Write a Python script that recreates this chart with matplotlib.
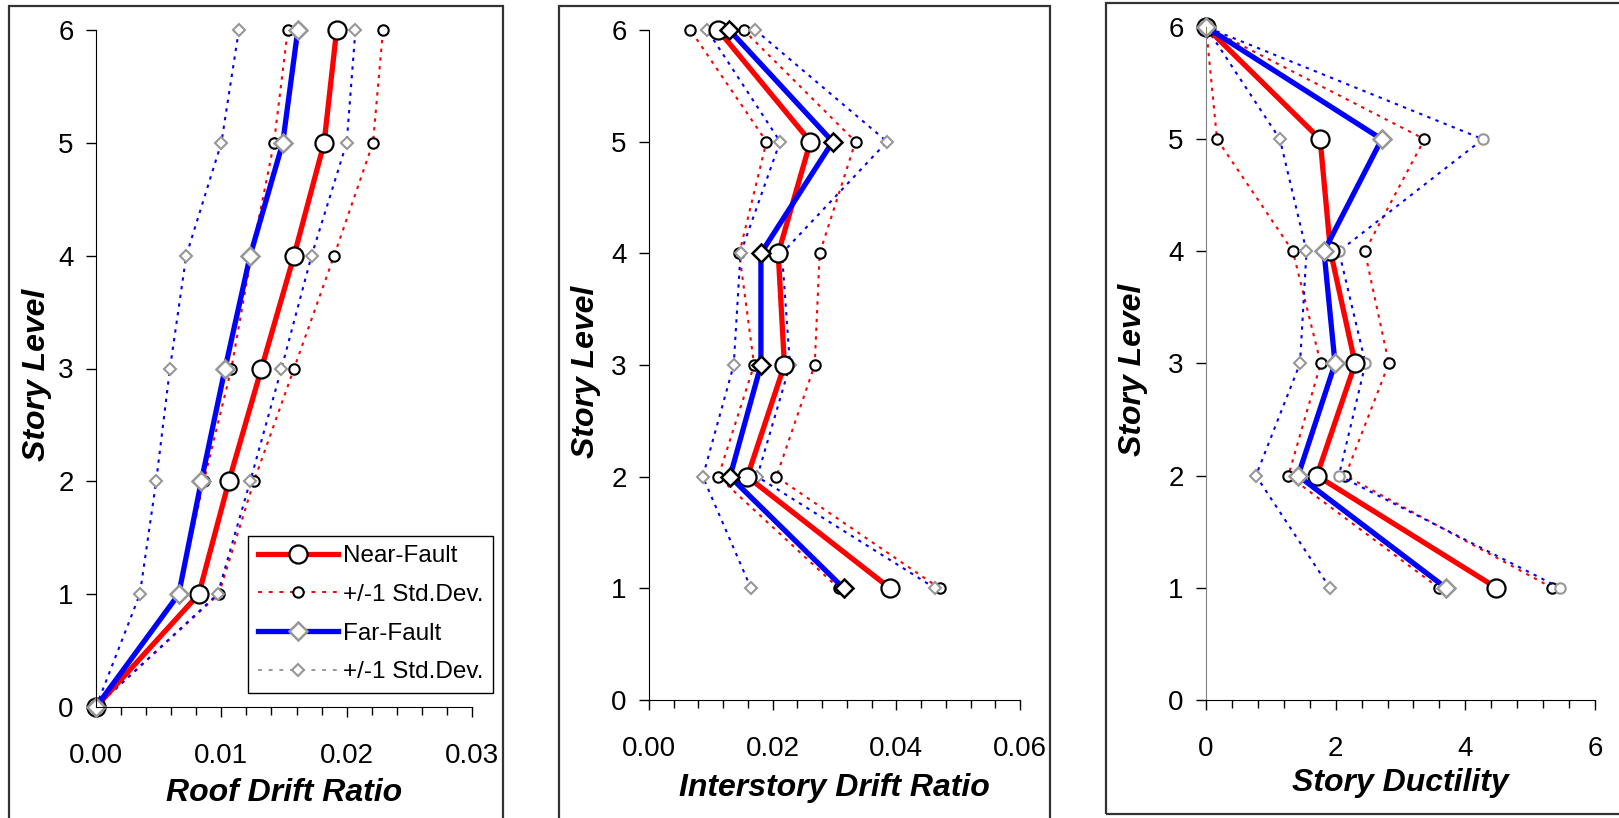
import matplotlib
matplotlib.use("Agg")
import matplotlib.pyplot as plt
from matplotlib.lines import Line2D
from matplotlib.patches import Rectangle
from matplotlib.ticker import MultipleLocator, FormatStrFormatter

# story levels
levels_roof = [0, 1, 2, 3, 4, 5, 6]
levels = [1, 2, 3, 4, 5, 6]

# roof drift ratio
roof_near_mean = [0, 0.0082, 0.0106, 0.0132, 0.0158, 0.0182, 0.0192]
roof_near_hi = [0, 0.0098, 0.0126, 0.0158, 0.0190, 0.0221, 0.0229]
roof_near_lo = [0, 0.0066, 0.0086, 0.0108, 0.0124, 0.0142, 0.0153]
roof_far_mean = [0, 0.0066, 0.0084, 0.0103, 0.0123, 0.0149, 0.0161]
roof_far_hi = [0, 0.0097, 0.0123, 0.0148, 0.0172, 0.0200, 0.0207]
roof_far_lo = [0, 0.0035, 0.0048, 0.0059, 0.0072, 0.0100, 0.0114]

# interstory drift ratio
inter_near_mean = [0.0390, 0.0159, 0.0219, 0.0209, 0.0261, 0.0112]
inter_near_hi = [0.0470, 0.0206, 0.0268, 0.0276, 0.0334, 0.0153]
inter_near_lo = [0.0307, 0.0112, 0.0170, 0.0146, 0.0190, 0.0067]
inter_far_mean = [0.0315, 0.0131, 0.0181, 0.0181, 0.0297, 0.0130]
inter_far_hi = [0.0463, 0.0175, 0.0228, 0.0215, 0.0385, 0.0172]
inter_far_lo = [0.0165, 0.0087, 0.0137, 0.0148, 0.0212, 0.0094]

# story ductility
duct_near_mean = [4.48, 1.71, 2.30, 1.92, 1.76, 0]
duct_near_hi = [5.34, 2.15, 2.82, 2.45, 3.37, 0]
duct_near_lo = [3.59, 1.27, 1.77, 1.34, 0.17, 0]
duct_far_mean = [3.70, 1.42, 1.99, 1.82, 2.71, 0]
duct_far_hi = [5.46, 2.05, 2.46, 2.05, 4.27, 0]
duct_far_lo = [1.91, 0.77, 1.45, 1.55, 1.14, 0]

legend_labels = ["Near-Fault", "+/-1 Std.Dev.", "Far-Fault", "+/-1 Std.Dev."]

plt.rcParams["font.family"] = ["Liberation Sans", "DejaVu Sans"]

W, H = 1619, 818
GRAY = "#979797"
STD_LS = (0, (1.6, 2.6))

fig = plt.figure(figsize=(W / 100, H / 100), dpi=100)


def px_box(l, r, t, b):
    return [l / W, 1 - b / H, (r - l) / W, (b - t) / H]


# outer frames around each panel
for l, r, t, b in [(9, 503, 6, 840), (559, 1050, 6, 840), (1106, 1640, 3, 814)]:
    fig.add_artist(Rectangle((l / W, 1 - b / H), (r - l) / W, (b - t) / H,
                             transform=fig.transFigure, fill=False,
                             ec="#333333", lw=1.6))


def draw(ax, lv, nm, nh, nl, fm, fh, fl, far_edge, far_hi_marker):
    std_n = dict(color="red", lw=1.5, ls=STD_LS, marker="o", ms=7.5,
                 mfc="white", mec="black", mew=1.5, clip_on=False)
    ax.plot(nh, lv, **std_n)
    ax.plot(nl, lv, **std_n)
    std_f = dict(color="blue", lw=1.5, ls=STD_LS, mfc="white", mec=GRAY,
                 mew=1.5, clip_on=False)
    ax.plot(fh, lv, marker=far_hi_marker, ms=6 if far_hi_marker == "D" else 7.5, **std_f)
    ax.plot(fl, lv, marker="D", ms=6, **std_f)
    ax.plot(nm, lv, color="red", lw=3.8, marker="o", ms=13, mfc="white",
            mec="black", mew=1.6, clip_on=False)
    ax.plot(fm, lv, color="blue", lw=3.8, marker="D", ms=9.5, mfc="white",
            mec=far_edge, mew=1.8, clip_on=False)


def style(ax, xmax, major, minor, fmt, xlabel, ylx, xly):
    ax.set_xlim(0, xmax)
    ax.set_ylim(0, 6)
    ax.xaxis.set_major_locator(MultipleLocator(major))
    ax.xaxis.set_minor_locator(MultipleLocator(minor))
    ax.xaxis.set_major_formatter(FormatStrFormatter(fmt))
    ax.yaxis.set_major_locator(MultipleLocator(1))
    ax.spines[["top", "right"]].set_visible(False)
    ax.tick_params(axis="x", which="major", length=7, width=1, labelsize=20, pad=19)
    ax.tick_params(axis="x", which="minor", length=6, width=1)
    ax.tick_params(axis="y", length=7, width=1, labelsize=20, pad=9)
    ax.set_xlabel(xlabel, fontsize=23, fontweight="bold", fontstyle="italic")
    ax.set_ylabel("Story Level", fontsize=23, fontweight="bold", fontstyle="italic")
    ax.xaxis.set_label_coords(0.5, xly)
    ax.xaxis.label.set_va("center")
    ax.yaxis.set_label_coords(ylx, 0.49)
    ax.yaxis.label.set_va("center")


ax1 = fig.add_axes(px_box(96, 472, 30, 707))
draw(ax1, levels_roof, roof_near_mean, roof_near_hi, roof_near_lo,
     roof_far_mean, roof_far_hi, roof_far_lo, GRAY, "D")
style(ax1, 0.03, 0.01, 0.002, "%.2f", "Roof Drift Ratio", -0.157, -0.127)

ax2 = fig.add_axes(px_box(649, 1020, 30, 700))
draw(ax2, levels, inter_near_mean, inter_near_hi, inter_near_lo,
     inter_far_mean, inter_far_hi, inter_far_lo, "black", "D")
style(ax2, 0.06, 0.02, 0.004, "%.2f", "Interstory Drift Ratio", -0.170, -0.131)

ax3 = fig.add_axes(px_box(1206, 1595, 27, 700))
draw(ax3, levels, duct_near_mean, duct_near_hi, duct_near_lo,
     duct_far_mean, duct_far_hi, duct_far_lo, GRAY, "o")
style(ax3, 6, 2, 0.4, "%d", "Story Ductility", -0.188, -0.123)
ax3.spines["left"].set_color("#808080")

LEG_LS = (0, (2, 3.5))
handles = [
    Line2D([], [], color="red", lw=3.8, marker="o", ms=13, mfc="white", mec="black", mew=1.6),
    Line2D([], [], color="red", lw=1.4, ls=LEG_LS, marker="o", ms=7.5, mfc="white", mec="black", mew=1.5),
    Line2D([], [], color="blue", lw=3.8, marker="D", ms=9.5, mfc="white", mec=GRAY, mew=1.8),
    Line2D([], [], color=GRAY, lw=1.4, ls=LEG_LS, marker="D", ms=6, mfc="white", mec=GRAY, mew=1.5),
]
leg = ax1.legend(handles, legend_labels, loc="lower left", bbox_to_anchor=(0.404, 0.021),
                 fontsize=17.5, fancybox=False, edgecolor="black", framealpha=1,
                 handlelength=3.3, handletextpad=0.2, labelspacing=0.68,
                 borderpad=0.4, borderaxespad=0)
leg.get_frame().set_linewidth(1.0)

fig.savefig("out.png", dpi=100)
